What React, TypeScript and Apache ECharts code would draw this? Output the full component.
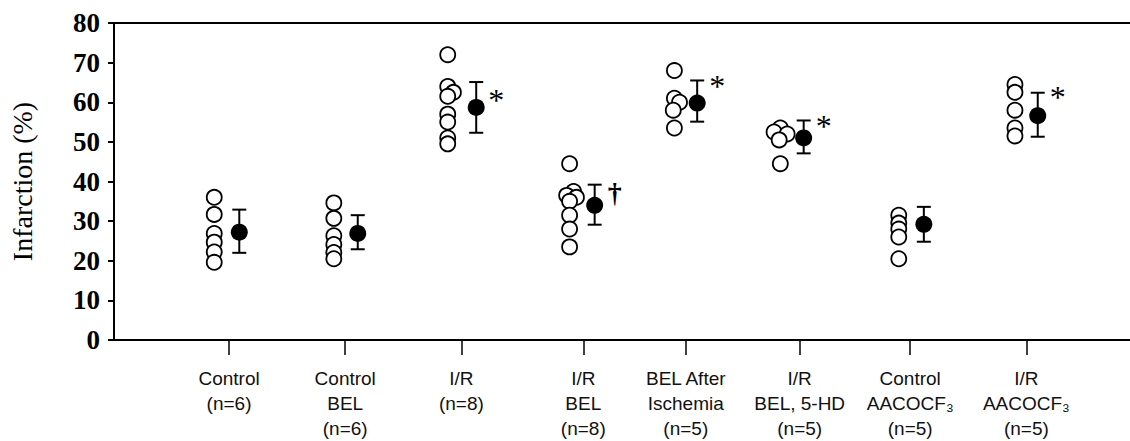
import React, { useEffect, useRef } from "react";
import * as echarts from "echarts";

// ---- data ----
const categories = [
  "Control\n(n=6)",
  "Control\nBEL\n(n=6)",
  "I/R\n(n=8)",
  "I/R\nBEL\n(n=8)",
  "BEL After\nIschemia\n(n=5)",
  "I/R\nBEL, 5-HD\n(n=5)",
  "Control\nAACOCF₃\n(n=5)",
  "I/R\nAACOCF₃\n(n=5)",
];
const groupPos = [1.01, 2.03, 3.05, 4.12, 5.02, 6.02, 6.99, 8.01];

const individuals: number[][] = [
  [36, 31.7, 26.9, 24.7, 22.2, 19.6],
  [34.6, 30.7, 26.3, 24.1, 22.1, 20.5],
  [72, 64, 62.5, 61.5, 57, 55, 51, 49.5],
  [44.5, 37.5, 36.5, 36, 35, 31.5, 28, 23.5],
  [68, 61, 60, 58, 53.5],
  [53.5, 52.5, 52, 50.5, 44.5],
  [31.5, 29.5, 28, 26, 20.5],
  [64.5, 62.5, 58, 53.5, 51.5],
];
const means = [27.2, 26.9, 58.7, 34, 59.8, 51, 29.2, 56.6];
const errHigh = [32.9, 31.5, 65.1, 39.2, 65.5, 55.4, 33.6, 62.4];
const errLow = [22.0, 22.9, 52.3, 29.1, 55.1, 47.1, 24.8, 51.3];
const marks = ["", "", "*", "†", "*", "*", "", "*"];

const yTicks = [0, 10, 20, 30, 40, 50, 60, 70, 80];

// ---- layout (axis units) ----
const circleOffset = [-0.13, -0.1, -0.12, -0.12, -0.1, -0.19, -0.1, -0.1];
const meanOffset = [0.09, 0.11, 0.13, 0.1, 0.1, 0.035, 0.12, 0.1];
const jitter: number[][] = [
  [0, 0, 0, 0, 0, 0],
  [0, 0, 0, 0, 0, 0],
  [0, 0, 0.05, 0, 0, 0, 0, 0],
  [0, 0.035, -0.026, 0.06, 0, 0, 0, 0],
  [0, 0, 0.045, -0.01, 0],
  [0.02, -0.035, 0.08, 0.01, 0.02],
  [0, 0, 0, 0, 0],
  [0, 0, 0, 0, 0],
];
const markDy = [0, 0, 18, 8, 6, 6, 0, 4];

export default function App() {
  const ref = useRef<HTMLDivElement>(null);
  useEffect(() => {
    if (!ref.current) return;
    const chart = echarts.init(ref.current, undefined, { renderer: "svg" });

    const indivData: number[][] = [];
    individuals.forEach((vals, g) => {
      vals.forEach((v, k) => {
        indivData.push([groupPos[g] + circleOffset[g] + jitter[g][k], v]);
      });
    });
    const meanData = means.map((m, g) => [groupPos[g] + meanOffset[g], m]);
    const errData = means.map((m, g) => [groupPos[g] + meanOffset[g], errLow[g], errHigh[g]]);
    const markData = means.map((m, g) => [groupPos[g] + meanOffset[g], errHigh[g], g]);

    const labelFor = (val: number) => {
      const i = groupPos.findIndex((p) => Math.abs(p - val) < 1e-6);
      return i >= 0 ? categories[i] : "";
    };

    chart.setOption({
      animation: false,
      backgroundColor: "#ffffff",
      grid: { left: 107, right: 0, top: 23, bottom: 93, containLabel: false },
      xAxis: [
        {
          type: "value",
          min: 0,
          max: 8.92,
          position: "bottom",
          axisLine: { show: true, lineStyle: { color: "#000", width: 2 } },
          axisTick: {
            show: true,
            customValues: groupPos,
            length: 15,
            lineStyle: { color: "#000", width: 1.5 },
          },
          axisLabel: {
            show: true,
            customValues: groupPos,
            formatter: labelFor,
            margin: 26,
            color: "#111",
            fontFamily: "Liberation Sans, Arial, sans-serif",
            fontSize: 19,
            lineHeight: 25,
          },
          splitLine: { show: false },
        },
        {
          type: "value",
          min: 0,
          max: 8.92,
          position: "top",
          axisLine: { show: true, lineStyle: { color: "#000", width: 2 } },
          axisTick: { show: false },
          axisLabel: { show: false },
          splitLine: { show: false },
        },
      ],
      yAxis: {
        type: "value",
        min: yTicks[0],
        max: yTicks[yTicks.length - 1],
        interval: 10,
        name: "Infarction (%)",
        nameLocation: "middle",
        nameGap: 78,
        nameTextStyle: {
          color: "#000",
          fontFamily: "Liberation Serif, Times New Roman, serif",
          fontSize: 28,
        },
        axisLine: { show: true, lineStyle: { color: "#000", width: 2 } },
        axisTick: { show: true, length: 6, lineStyle: { color: "#000", width: 2 } },
        axisLabel: {
          color: "#000",
          fontFamily: "Liberation Serif, Times New Roman, serif",
          fontWeight: "bold",
          fontSize: 27,
          margin: 14,
        },
        splitLine: { show: false },
      },
      series: [
        {
          type: "scatter",
          name: "individual",
          data: indivData,
          symbol: "circle",
          symbolSize: 15,
          itemStyle: { color: "#fff", borderColor: "#000", borderWidth: 1.8, opacity: 1 },
          z: 2,
        },
        {
          type: "custom",
          name: "sem",
          data: errData,
          renderItem: (params: any, api: any) => {
            const x = api.value(0);
            const lo = api.coord([x, api.value(1)]);
            const hi = api.coord([x, api.value(2)]);
            const cap = 7;
            const st = { stroke: "#000", lineWidth: 2 };
            return {
              type: "group",
              children: [
                { type: "line", shape: { x1: hi[0], y1: hi[1], x2: lo[0], y2: lo[1] }, style: st },
                { type: "line", shape: { x1: hi[0] - cap, y1: hi[1], x2: hi[0] + cap, y2: hi[1] }, style: st },
                { type: "line", shape: { x1: lo[0] - cap, y1: lo[1], x2: lo[0] + cap, y2: lo[1] }, style: st },
              ],
            };
          },
          z: 3,
        },
        {
          type: "scatter",
          name: "mean",
          data: meanData,
          symbol: "circle",
          symbolSize: 17,
          itemStyle: { color: "#000", opacity: 1 },
          z: 4,
        },
        {
          type: "custom",
          name: "marks",
          data: markData,
          renderItem: (params: any, api: any) => {
            const g = api.value(2);
            const p = api.coord([api.value(0), api.value(1)]);
            const t = marks[g];
            if (!t) return null;
            return {
              type: "text",
              x: p[0] + 20,
              y: p[1] + markDy[g],
              style: {
                text: t,
                fill: "#000",
                fontFamily: "Liberation Serif, Times New Roman, serif",
                fontSize: t === "*" ? 32 : 28,
                fontWeight: t === "*" ? "normal" : "bold",
                align: "center",
                verticalAlign: "middle",
              },
            };
          },
          z: 5,
        },
      ],
    });
    return () => chart.dispose();
  }, []);
  return (
    <div
      ref={ref}
      style={{ position: "fixed", left: 0, top: 0, width: 1130, height: 441, background: "#fff" }}
    />
  );
}
